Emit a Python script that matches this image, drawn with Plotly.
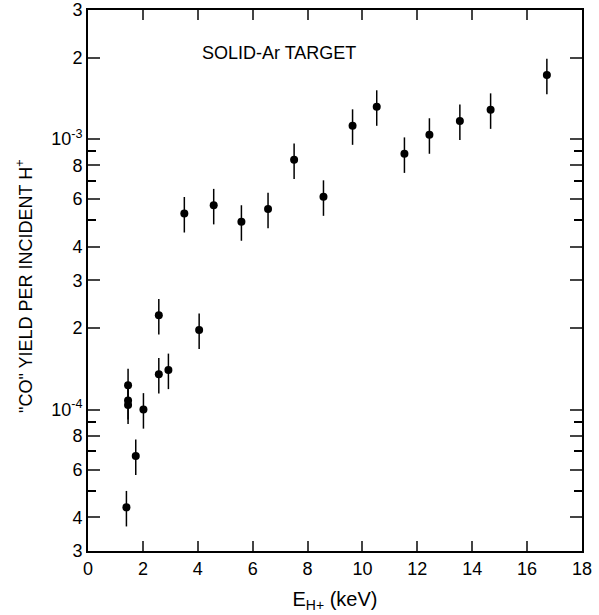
import plotly.graph_objects as go

# Data
energy_keV = [1.40, 1.46, 1.46, 1.46, 1.74, 2.02, 2.58, 2.58, 2.93, 3.51, 4.05, 4.58,
              5.59, 6.56, 7.51, 8.58, 9.64, 10.52, 11.53, 12.44, 13.55, 14.67, 16.72]
co_yield = [4.35e-5, 1.23e-4, 1.08e-4, 1.04e-4, 6.74e-5, 1.00e-4, 2.23e-4, 1.35e-4,
            1.40e-4, 5.31e-4, 1.97e-4, 5.69e-4, 4.95e-4, 5.51e-4, 8.38e-4, 6.12e-4,
            1.12e-3, 1.317e-3, 8.82e-4, 1.038e-3, 1.166e-3, 1.283e-3, 1.724e-3]
rel_err_percent = 15

x_ticks = [0, 2, 4, 6, 8, 10, 12, 14, 16, 18]
y_major_vals = [3e-5, 4e-5, 6e-5, 8e-5, 1e-4, 2e-4, 3e-4, 4e-4, 6e-4, 8e-4, 1e-3, 2e-3, 3e-3]
y_major_text = ["3", "4", "6", "8", "10<sup>-4</sup>", "2", "3", "4", "6", "8",
                "10<sup>-3</sup>", "2", "3"]
y_minor_vals = [5e-5, 7e-5, 9e-5, 5e-4, 7e-4, 9e-4]

FONT = "Liberation Sans"

fig = go.Figure()
fig.add_trace(go.Scatter(
    x=energy_keV, y=co_yield, mode="markers",
    marker=dict(color="black", size=8),
    error_y=dict(type="percent", value=rel_err_percent, width=0,
                 thickness=1.5, color="black"),
    showlegend=False,
))

fig.update_layout(
    width=599, height=615,
    margin=dict(l=88, r=17, t=10, b=64),
    paper_bgcolor="white", plot_bgcolor="white",
    font=dict(family=FONT, size=18, color="black"),
    xaxis=dict(
        range=[0, 18], tickvals=x_ticks, ticks="inside", ticklen=10, tickwidth=1.5,
        showline=True, linecolor="black", linewidth=1.8, mirror="ticks",
        showgrid=False, zeroline=False, tickfont=dict(size=18), automargin=False,
        title=dict(text="E<sub>H+</sub> (keV)", font=dict(size=20), standoff=14),
    ),
    yaxis=dict(
        type="log", range=[-4.5229, -2.5229],
        tickvals=y_major_vals, ticktext=y_major_text,
        ticks="inside", ticklen=12, tickwidth=1.5,
        minor=dict(tickvals=y_minor_vals, ticks="inside", ticklen=8,
                   tickwidth=1.5, tickcolor="black"),
        showline=True, linecolor="black", linewidth=1.8, mirror="ticks",
        showgrid=False, zeroline=False, tickfont=dict(size=18), automargin=False,
    ),
    annotations=[
        dict(text='"CO" YIELD PER INCIDENT H<sup>+</sup>', xref="paper", yref="paper",
             x=0, y=0.49, xshift=-63, xanchor="center", yanchor="middle",
             textangle=-90, showarrow=False, font=dict(size=18)),
        dict(text="SOLID-Ar TARGET", xref="x", yref="paper", x=6.97, y=0.921,
             xanchor="center", yanchor="middle", showarrow=False,
             font=dict(size=18)),
    ],
)

fig.write_html("out.html")
